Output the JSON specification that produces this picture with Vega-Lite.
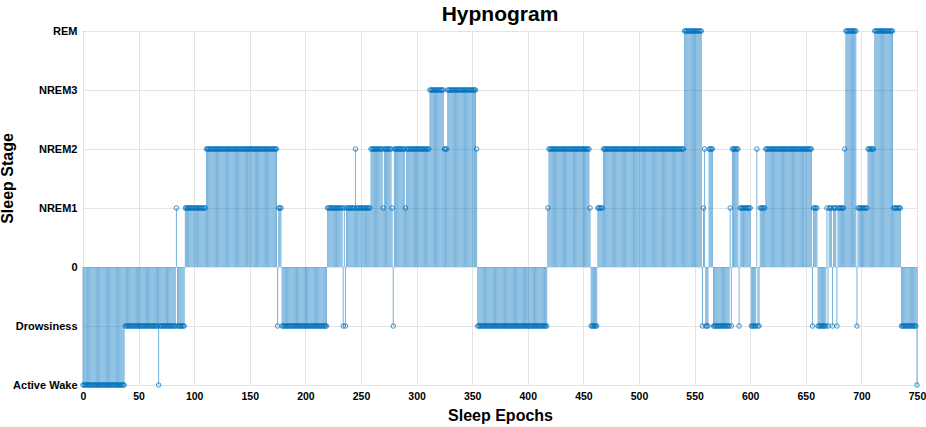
{
"$schema":"https://vega.github.io/schema/vega-lite/v6.json",
"width":834,"height":354,
"autosize":{"type":"none"},
"padding":{"left":83,"top":31,"right":9,"bottom":42},
"background":"white",
"title":{"text":"Hypnogram","font":"Liberation Sans","fontSize":21,"fontWeight":"bold","color":"#000","offset":0},
"config":{"view":{"stroke":"#262626","strokeWidth":1},"axis":{"gridColor":"#e4e4e4","domain":false,"ticks":false,"labelFont":"Liberation Sans","labelFontWeight":"bold","labelColor":"#000","titleFont":"Liberation Sans","titleFontWeight":"bold","titleColor":"#000"}},
"data":{"values":[
{"e":0,"s":-2},{"e":1,"s":-2},{"e":2,"s":-2},{"e":3,"s":-2},{"e":4,"s":-2},{"e":5,"s":-2},{"e":6,"s":-2},{"e":7,"s":-2},{"e":8,"s":-2},{"e":9,"s":-2},
{"e":10,"s":-2},{"e":11,"s":-2},{"e":12,"s":-2},{"e":13,"s":-2},{"e":14,"s":-2},{"e":15,"s":-2},{"e":16,"s":-2},{"e":17,"s":-2},{"e":18,"s":-2},{"e":19,"s":-2},
{"e":20,"s":-2},{"e":21,"s":-2},{"e":22,"s":-2},{"e":23,"s":-2},{"e":24,"s":-2},{"e":25,"s":-2},{"e":26,"s":-2},{"e":27,"s":-2},{"e":28,"s":-2},{"e":29,"s":-2},
{"e":30,"s":-2},{"e":31,"s":-2},{"e":32,"s":-2},{"e":33,"s":-2},{"e":34,"s":-2},{"e":35,"s":-2},{"e":36,"s":-2},{"e":37,"s":-2},{"e":38,"s":-1},{"e":39,"s":-1},
{"e":40,"s":-1},{"e":41,"s":-1},{"e":42,"s":-1},{"e":43,"s":-1},{"e":44,"s":-1},{"e":45,"s":-1},{"e":46,"s":-1},{"e":47,"s":-1},{"e":48,"s":-1},{"e":49,"s":-1},
{"e":50,"s":-1},{"e":51,"s":-1},{"e":52,"s":-1},{"e":53,"s":-1},{"e":54,"s":-1},{"e":55,"s":-1},{"e":56,"s":-1},{"e":57,"s":-1},{"e":58,"s":-1},{"e":59,"s":-1},
{"e":60,"s":-1},{"e":61,"s":-1},{"e":62,"s":-1},{"e":63,"s":-1},{"e":64,"s":-1},{"e":65,"s":-1},{"e":66,"s":-1},{"e":67,"s":-1},{"e":68,"s":-2},{"e":69,"s":-1},
{"e":70,"s":-1},{"e":71,"s":-1},{"e":72,"s":-1},{"e":73,"s":-1},{"e":74,"s":-1},{"e":75,"s":-1},{"e":76,"s":-1},{"e":77,"s":-1},{"e":78,"s":-1},{"e":79,"s":-1},
{"e":80,"s":-1},{"e":81,"s":-1},{"e":82,"s":-1},{"e":83,"s":-1},{"e":84,"s":1},{"e":85,"s":-1},{"e":86,"s":-1},{"e":87,"s":-1},{"e":88,"s":-1},{"e":89,"s":-1},
{"e":90,"s":-1},{"e":91,"s":-1},{"e":92,"s":1},{"e":93,"s":1},{"e":94,"s":1},{"e":95,"s":1},{"e":96,"s":1},{"e":97,"s":1},{"e":98,"s":1},{"e":99,"s":1},
{"e":100,"s":1},{"e":101,"s":1},{"e":102,"s":1},{"e":103,"s":1},{"e":104,"s":1},{"e":105,"s":1},{"e":106,"s":1},{"e":107,"s":1},{"e":108,"s":1},{"e":109,"s":1},
{"e":110,"s":1},{"e":111,"s":2},{"e":112,"s":2},{"e":113,"s":2},{"e":114,"s":2},{"e":115,"s":2},{"e":116,"s":2},{"e":117,"s":2},{"e":118,"s":2},{"e":119,"s":2},
{"e":120,"s":2},{"e":121,"s":2},{"e":122,"s":2},{"e":123,"s":2},{"e":124,"s":2},{"e":125,"s":2},{"e":126,"s":2},{"e":127,"s":2},{"e":128,"s":2},{"e":129,"s":2},
{"e":130,"s":2},{"e":131,"s":2},{"e":132,"s":2},{"e":133,"s":2},{"e":134,"s":2},{"e":135,"s":2},{"e":136,"s":2},{"e":137,"s":2},{"e":138,"s":2},{"e":139,"s":2},
{"e":140,"s":2},{"e":141,"s":2},{"e":142,"s":2},{"e":143,"s":2},{"e":144,"s":2},{"e":145,"s":2},{"e":146,"s":2},{"e":147,"s":2},{"e":148,"s":2},{"e":149,"s":2},
{"e":150,"s":2},{"e":151,"s":2},{"e":152,"s":2},{"e":153,"s":2},{"e":154,"s":2},{"e":155,"s":2},{"e":156,"s":2},{"e":157,"s":2},{"e":158,"s":2},{"e":159,"s":2},
{"e":160,"s":2},{"e":161,"s":2},{"e":162,"s":2},{"e":163,"s":2},{"e":164,"s":2},{"e":165,"s":2},{"e":166,"s":2},{"e":167,"s":2},{"e":168,"s":2},{"e":169,"s":2},
{"e":170,"s":2},{"e":171,"s":2},{"e":172,"s":2},{"e":173,"s":2},{"e":174,"s":2},{"e":175,"s":-1},{"e":176,"s":1},{"e":177,"s":1},{"e":178,"s":1},{"e":179,"s":-1},
{"e":180,"s":-1},{"e":181,"s":-1},{"e":182,"s":-1},{"e":183,"s":-1},{"e":184,"s":-1},{"e":185,"s":-1},{"e":186,"s":-1},{"e":187,"s":-1},{"e":188,"s":-1},{"e":189,"s":-1},
{"e":190,"s":-1},{"e":191,"s":-1},{"e":192,"s":-1},{"e":193,"s":-1},{"e":194,"s":-1},{"e":195,"s":-1},{"e":196,"s":-1},{"e":197,"s":-1},{"e":198,"s":-1},{"e":199,"s":-1},
{"e":200,"s":-1},{"e":201,"s":-1},{"e":202,"s":-1},{"e":203,"s":-1},{"e":204,"s":-1},{"e":205,"s":-1},{"e":206,"s":-1},{"e":207,"s":-1},{"e":208,"s":-1},{"e":209,"s":-1},
{"e":210,"s":-1},{"e":211,"s":-1},{"e":212,"s":-1},{"e":213,"s":-1},{"e":214,"s":-1},{"e":215,"s":-1},{"e":216,"s":-1},{"e":217,"s":-1},{"e":218,"s":-1},{"e":219,"s":-1},
{"e":220,"s":1},{"e":221,"s":1},{"e":222,"s":1},{"e":223,"s":1},{"e":224,"s":1},{"e":225,"s":1},{"e":226,"s":1},{"e":227,"s":1},{"e":228,"s":1},{"e":229,"s":1},
{"e":230,"s":1},{"e":231,"s":1},{"e":232,"s":1},{"e":233,"s":1},{"e":234,"s":-1},{"e":235,"s":1},{"e":236,"s":-1},{"e":237,"s":1},{"e":238,"s":1},{"e":239,"s":1},
{"e":240,"s":1},{"e":241,"s":1},{"e":242,"s":1},{"e":243,"s":1},{"e":244,"s":1},{"e":245,"s":2},{"e":246,"s":1},{"e":247,"s":1},{"e":248,"s":1},{"e":249,"s":1},
{"e":250,"s":1},{"e":251,"s":1},{"e":252,"s":1},{"e":253,"s":1},{"e":254,"s":1},{"e":255,"s":1},{"e":256,"s":1},{"e":257,"s":1},{"e":258,"s":1},{"e":259,"s":2},
{"e":260,"s":2},{"e":261,"s":2},{"e":262,"s":2},{"e":263,"s":2},{"e":264,"s":2},{"e":265,"s":2},{"e":266,"s":2},{"e":267,"s":2},{"e":268,"s":2},{"e":269,"s":2},
{"e":270,"s":1},{"e":271,"s":2},{"e":272,"s":2},{"e":273,"s":2},{"e":274,"s":2},{"e":275,"s":2},{"e":276,"s":2},{"e":277,"s":2},{"e":278,"s":1},{"e":279,"s":-1},
{"e":280,"s":2},{"e":281,"s":2},{"e":282,"s":2},{"e":283,"s":2},{"e":284,"s":2},{"e":285,"s":2},{"e":286,"s":2},{"e":287,"s":2},{"e":288,"s":2},{"e":289,"s":2},
{"e":290,"s":1},{"e":291,"s":2},{"e":292,"s":2},{"e":293,"s":2},{"e":294,"s":2},{"e":295,"s":2},{"e":296,"s":2},{"e":297,"s":2},{"e":298,"s":2},{"e":299,"s":2},
{"e":300,"s":2},{"e":301,"s":2},{"e":302,"s":2},{"e":303,"s":2},{"e":304,"s":2},{"e":305,"s":2},{"e":306,"s":2},{"e":307,"s":2},{"e":308,"s":2},{"e":309,"s":2},
{"e":310,"s":2},{"e":311,"s":2},{"e":312,"s":3},{"e":313,"s":3},{"e":314,"s":3},{"e":315,"s":3},{"e":316,"s":3},{"e":317,"s":3},{"e":318,"s":3},{"e":319,"s":3},
{"e":320,"s":3},{"e":321,"s":3},{"e":322,"s":3},{"e":323,"s":3},{"e":324,"s":3},{"e":325,"s":2},{"e":326,"s":2},{"e":327,"s":2},{"e":328,"s":3},{"e":329,"s":3},
{"e":330,"s":3},{"e":331,"s":3},{"e":332,"s":3},{"e":333,"s":3},{"e":334,"s":3},{"e":335,"s":3},{"e":336,"s":3},{"e":337,"s":3},{"e":338,"s":3},{"e":339,"s":3},
{"e":340,"s":3},{"e":341,"s":3},{"e":342,"s":3},{"e":343,"s":3},{"e":344,"s":3},{"e":345,"s":3},{"e":346,"s":3},{"e":347,"s":3},{"e":348,"s":3},{"e":349,"s":3},
{"e":350,"s":3},{"e":351,"s":3},{"e":352,"s":3},{"e":353,"s":3},{"e":354,"s":2},{"e":355,"s":-1},{"e":356,"s":-1},{"e":357,"s":-1},{"e":358,"s":-1},{"e":359,"s":-1},
{"e":360,"s":-1},{"e":361,"s":-1},{"e":362,"s":-1},{"e":363,"s":-1},{"e":364,"s":-1},{"e":365,"s":-1},{"e":366,"s":-1},{"e":367,"s":-1},{"e":368,"s":-1},{"e":369,"s":-1},
{"e":370,"s":-1},{"e":371,"s":-1},{"e":372,"s":-1},{"e":373,"s":-1},{"e":374,"s":-1},{"e":375,"s":-1},{"e":376,"s":-1},{"e":377,"s":-1},{"e":378,"s":-1},{"e":379,"s":-1},
{"e":380,"s":-1},{"e":381,"s":-1},{"e":382,"s":-1},{"e":383,"s":-1},{"e":384,"s":-1},{"e":385,"s":-1},{"e":386,"s":-1},{"e":387,"s":-1},{"e":388,"s":-1},{"e":389,"s":-1},
{"e":390,"s":-1},{"e":391,"s":-1},{"e":392,"s":-1},{"e":393,"s":-1},{"e":394,"s":-1},{"e":395,"s":-1},{"e":396,"s":-1},{"e":397,"s":-1},{"e":398,"s":-1},{"e":399,"s":-1},
{"e":400,"s":-1},{"e":401,"s":-1},{"e":402,"s":-1},{"e":403,"s":-1},{"e":404,"s":-1},{"e":405,"s":-1},{"e":406,"s":-1},{"e":407,"s":-1},{"e":408,"s":-1},{"e":409,"s":-1},
{"e":410,"s":-1},{"e":411,"s":-1},{"e":412,"s":-1},{"e":413,"s":-1},{"e":414,"s":-1},{"e":415,"s":-1},{"e":416,"s":-1},{"e":417,"s":-1},{"e":418,"s":1},{"e":419,"s":2},
{"e":420,"s":2},{"e":421,"s":2},{"e":422,"s":2},{"e":423,"s":2},{"e":424,"s":2},{"e":425,"s":2},{"e":426,"s":2},{"e":427,"s":2},{"e":428,"s":2},{"e":429,"s":2},
{"e":430,"s":2},{"e":431,"s":2},{"e":432,"s":2},{"e":433,"s":2},{"e":434,"s":2},{"e":435,"s":2},{"e":436,"s":2},{"e":437,"s":2},{"e":438,"s":2},{"e":439,"s":2},
{"e":440,"s":2},{"e":441,"s":2},{"e":442,"s":2},{"e":443,"s":2},{"e":444,"s":2},{"e":445,"s":2},{"e":446,"s":2},{"e":447,"s":2},{"e":448,"s":2},{"e":449,"s":2},
{"e":450,"s":2},{"e":451,"s":2},{"e":452,"s":2},{"e":453,"s":2},{"e":454,"s":2},{"e":455,"s":2},{"e":456,"s":1},{"e":457,"s":-1},{"e":458,"s":-1},{"e":459,"s":-1},
{"e":460,"s":-1},{"e":461,"s":-1},{"e":462,"s":-1},{"e":463,"s":1},{"e":464,"s":1},{"e":465,"s":1},{"e":466,"s":1},{"e":467,"s":1},{"e":468,"s":2},{"e":469,"s":2},
{"e":470,"s":2},{"e":471,"s":2},{"e":472,"s":2},{"e":473,"s":2},{"e":474,"s":2},{"e":475,"s":2},{"e":476,"s":2},{"e":477,"s":2},{"e":478,"s":2},{"e":479,"s":2},
{"e":480,"s":2},{"e":481,"s":2},{"e":482,"s":2},{"e":483,"s":2},{"e":484,"s":2},{"e":485,"s":2},{"e":486,"s":2},{"e":487,"s":2},{"e":488,"s":2},{"e":489,"s":2},
{"e":490,"s":2},{"e":491,"s":2},{"e":492,"s":2},{"e":493,"s":2},{"e":494,"s":2},{"e":495,"s":2},{"e":496,"s":2},{"e":497,"s":2},{"e":498,"s":2},{"e":499,"s":2},
{"e":500,"s":2},{"e":501,"s":2},{"e":502,"s":2},{"e":503,"s":2},{"e":504,"s":2},{"e":505,"s":2},{"e":506,"s":2},{"e":507,"s":2},{"e":508,"s":2},{"e":509,"s":2},
{"e":510,"s":2},{"e":511,"s":2},{"e":512,"s":2},{"e":513,"s":2},{"e":514,"s":2},{"e":515,"s":2},{"e":516,"s":2},{"e":517,"s":2},{"e":518,"s":2},{"e":519,"s":2},
{"e":520,"s":2},{"e":521,"s":2},{"e":522,"s":2},{"e":523,"s":2},{"e":524,"s":2},{"e":525,"s":2},{"e":526,"s":2},{"e":527,"s":2},{"e":528,"s":2},{"e":529,"s":2},
{"e":530,"s":2},{"e":531,"s":2},{"e":532,"s":2},{"e":533,"s":2},{"e":534,"s":2},{"e":535,"s":2},{"e":536,"s":2},{"e":537,"s":2},{"e":538,"s":2},{"e":539,"s":2},
{"e":540,"s":2},{"e":541,"s":4},{"e":542,"s":4},{"e":543,"s":4},{"e":544,"s":4},{"e":545,"s":4},{"e":546,"s":4},{"e":547,"s":4},{"e":548,"s":4},{"e":549,"s":4},
{"e":550,"s":4},{"e":551,"s":4},{"e":552,"s":4},{"e":553,"s":4},{"e":554,"s":4},{"e":555,"s":4},{"e":556,"s":4},{"e":557,"s":-1},{"e":558,"s":1},{"e":559,"s":2},
{"e":560,"s":-1},{"e":561,"s":-1},{"e":562,"s":-1},{"e":563,"s":2},{"e":564,"s":2},{"e":565,"s":2},{"e":566,"s":2},{"e":567,"s":-1},{"e":568,"s":-1},{"e":569,"s":-1},
{"e":570,"s":-1},{"e":571,"s":-1},{"e":572,"s":-1},{"e":573,"s":-1},{"e":574,"s":-1},{"e":575,"s":-1},{"e":576,"s":-1},{"e":577,"s":-1},{"e":578,"s":-1},{"e":579,"s":-1},
{"e":580,"s":-1},{"e":581,"s":-1},{"e":582,"s":1},{"e":583,"s":-1},{"e":584,"s":2},{"e":585,"s":2},{"e":586,"s":2},{"e":587,"s":2},{"e":588,"s":2},{"e":589,"s":2},
{"e":590,"s":-1},{"e":591,"s":1},{"e":592,"s":1},{"e":593,"s":1},{"e":594,"s":1},{"e":595,"s":1},{"e":596,"s":1},{"e":597,"s":1},{"e":598,"s":1},{"e":599,"s":1},
{"e":600,"s":1},{"e":601,"s":-1},{"e":602,"s":-1},{"e":603,"s":-1},{"e":604,"s":-1},{"e":605,"s":-1},{"e":606,"s":2},{"e":607,"s":-1},{"e":608,"s":-1},{"e":609,"s":1},
{"e":610,"s":1},{"e":611,"s":1},{"e":612,"s":1},{"e":613,"s":1},{"e":614,"s":2},{"e":615,"s":2},{"e":616,"s":2},{"e":617,"s":2},{"e":618,"s":2},{"e":619,"s":2},
{"e":620,"s":2},{"e":621,"s":2},{"e":622,"s":2},{"e":623,"s":2},{"e":624,"s":2},{"e":625,"s":2},{"e":626,"s":2},{"e":627,"s":2},{"e":628,"s":2},{"e":629,"s":2},
{"e":630,"s":2},{"e":631,"s":2},{"e":632,"s":2},{"e":633,"s":2},{"e":634,"s":2},{"e":635,"s":2},{"e":636,"s":2},{"e":637,"s":2},{"e":638,"s":2},{"e":639,"s":2},
{"e":640,"s":2},{"e":641,"s":2},{"e":642,"s":2},{"e":643,"s":2},{"e":644,"s":2},{"e":645,"s":2},{"e":646,"s":2},{"e":647,"s":2},{"e":648,"s":2},{"e":649,"s":2},
{"e":650,"s":2},{"e":651,"s":2},{"e":652,"s":2},{"e":653,"s":2},{"e":654,"s":2},{"e":655,"s":2},{"e":656,"s":-1},{"e":657,"s":1},{"e":658,"s":1},{"e":659,"s":1},
{"e":660,"s":1},{"e":661,"s":-1},{"e":662,"s":-1},{"e":663,"s":-1},{"e":664,"s":-1},{"e":665,"s":-1},{"e":666,"s":-1},{"e":667,"s":-1},{"e":668,"s":-1},{"e":669,"s":1},
{"e":670,"s":-1},{"e":671,"s":1},{"e":672,"s":1},{"e":673,"s":1},{"e":674,"s":-1},{"e":675,"s":1},{"e":676,"s":1},{"e":677,"s":1},{"e":678,"s":-1},{"e":679,"s":1},
{"e":680,"s":1},{"e":681,"s":1},{"e":682,"s":1},{"e":683,"s":1},{"e":684,"s":1},{"e":685,"s":2},{"e":686,"s":4},{"e":687,"s":4},{"e":688,"s":4},{"e":689,"s":4},
{"e":690,"s":4},{"e":691,"s":4},{"e":692,"s":4},{"e":693,"s":4},{"e":694,"s":4},{"e":695,"s":4},{"e":696,"s":-1},{"e":697,"s":1},{"e":698,"s":1},{"e":699,"s":1},
{"e":700,"s":1},{"e":701,"s":1},{"e":702,"s":1},{"e":703,"s":1},{"e":704,"s":1},{"e":705,"s":1},{"e":706,"s":2},{"e":707,"s":2},{"e":708,"s":2},{"e":709,"s":2},
{"e":710,"s":2},{"e":711,"s":2},{"e":712,"s":4},{"e":713,"s":4},{"e":714,"s":4},{"e":715,"s":4},{"e":716,"s":4},{"e":717,"s":4},{"e":718,"s":4},{"e":719,"s":4},
{"e":720,"s":4},{"e":721,"s":4},{"e":722,"s":4},{"e":723,"s":4},{"e":724,"s":4},{"e":725,"s":4},{"e":726,"s":4},{"e":727,"s":4},{"e":728,"s":4},{"e":729,"s":1},
{"e":730,"s":1},{"e":731,"s":1},{"e":732,"s":1},{"e":733,"s":1},{"e":734,"s":1},{"e":735,"s":1},{"e":736,"s":-1},{"e":737,"s":-1},{"e":738,"s":-1},{"e":739,"s":-1},
{"e":740,"s":-1},{"e":741,"s":-1},{"e":742,"s":-1},{"e":743,"s":-1},{"e":744,"s":-1},{"e":745,"s":-1},{"e":746,"s":-1},{"e":747,"s":-1},{"e":748,"s":-1},{"e":749,"s":-1},
{"e":750,"s":-2}
]},
"encoding":{
"x":{"field":"e","type":"quantitative","scale":{"domain":[0,750],"nice":false,"zero":false},
"axis":{"values":[0,50,100,150,200,250,300,350,400,450,500,550,600,650,700,750],"title":"Sleep Epochs","titleFontSize":16,"titlePadding":6,"labelFontSize":10.5,"labelPadding":6,"labelFlush":false}}
},
"layer":[
{"mark":{"type":"rule","color":"#0072BD","strokeWidth":0.6,"opacity":0.9},
"encoding":{"y":{"field":"s","type":"quantitative","scale":{"domain":[-2,4],"nice":false,"zero":false},
"axis":{"values":[-2,-1,0,1,2,3,4],"title":"Sleep Stage","titleFontSize":16,"titleX":-68,"titleY":147,"labelFontSize":11,"labelPadding":6,
"labelExpr":"datum.value==4?'REM':datum.value==3?'NREM3':datum.value==2?'NREM2':datum.value==1?'NREM1':datum.value==0?'0':datum.value==-1?'Drowsiness':'Active Wake'"}},
"y2":{"datum":0}}},
{"mark":{"type":"point","shape":"circle","filled":false,"color":"#0072BD","size":20,"strokeWidth":0.9,"opacity":0.85},
"encoding":{"y":{"field":"s","type":"quantitative"}}}
]
}
